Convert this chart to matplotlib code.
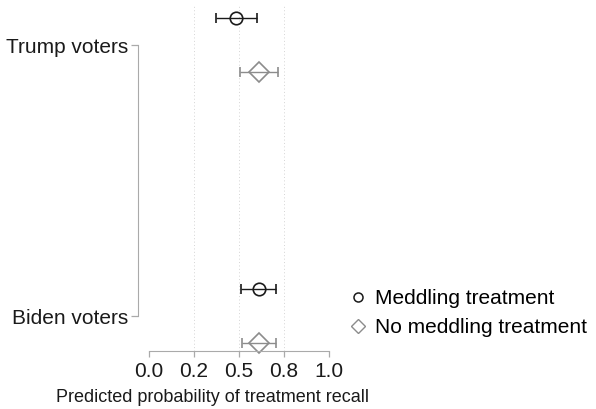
import matplotlib
from matplotlib import pyplot as plt
from matplotlib.lines import Line2D

plt.switch_backend('agg')
plt.rcParams['font.family'] = ['Liberation Sans', 'DejaVu Sans']

groups = ['Trump voters', 'Biden voters']
group_pos = [1.0, 0.0]

meddling_est = [0.483, 0.611]
meddling_lo = [0.372, 0.511]
meddling_hi = [0.600, 0.706]

nomeddling_est = [0.611, 0.611]
nomeddling_lo = [0.506, 0.517]
nomeddling_hi = [0.717, 0.706]

xticks = [0.0, 0.25, 0.5, 0.75, 1.0]
xticklabels = ['0.0', '0.2', '0.5', '0.8', '1.0']

black = '#1a1a1a'
grey = '#8c8c8c'

fig = plt.figure(figsize=(5.96, 4.09), dpi=100)
ax = fig.add_axes([149 / 596, 58 / 409, 180 / 596, 346 / 409])

# spine position first: moving it resets the ticks
for s in ['top', 'right']:
    ax.spines[s].set_visible(False)
ax.spines['left'].set_position(('outward', 8))
ax.spines['left'].set_bounds(0, 1)
ax.spines['left'].set_color('#aaaaaa')
ax.spines['bottom'].set_color('#aaaaaa')
ax.spines['bottom'].set_bounds(0, 1)

for x in xticks[1:]:
    ax.axvline(x, color='#d4d4d4', linestyle=(0, (1, 2.5)), linewidth=0.7, zorder=0)

off = 0.1
for i, y in enumerate(group_pos):
    ax.errorbar(meddling_est[i], y + off,
                xerr=[[meddling_est[i] - meddling_lo[i]], [meddling_hi[i] - meddling_est[i]]],
                fmt='o', mfc='none', mec=black, ecolor=black, color=black,
                markersize=9, mew=1.2, capsize=3.5, elinewidth=1.0, capthick=1.0,
                clip_on=False)
    ax.errorbar(nomeddling_est[i], y - off,
                xerr=[[nomeddling_est[i] - nomeddling_lo[i]], [nomeddling_hi[i] - nomeddling_est[i]]],
                fmt='D', mfc='none', mec=grey, ecolor=grey, color=grey,
                markersize=10, mew=1.2, capsize=3.5, elinewidth=1.0, capthick=1.0,
                clip_on=False)

ax.set_xlim(0, 1)
ax.set_ylim(-0.129, 1.148)

ax.set_xticks(xticks)
ax.set_xticklabels(xticklabels, fontsize=15)
ax.set_yticks(group_pos)
ax.set_yticklabels(groups, fontsize=15)
fig.text(213 / 596, 1 - 397 / 409, 'Predicted probability of treatment recall',
         fontsize=13, ha='center', va='center', color='#1a1a1a')

ax.tick_params(axis='both', colors='#aaaaaa', labelcolor='#1a1a1a', length=4, width=0.9)
ax.tick_params(axis='x', pad=4)
ax.tick_params(axis='y', length=5, pad=2)

handles = [
    Line2D([], [], marker='o', linestyle='none', mfc='none', mec=black, markersize=6.5, mew=1.1),
    Line2D([], [], marker='D', linestyle='none', mfc='none', mec=grey, markersize=7.5, mew=1.0),
]
fig.legend(handles, ['Meddling treatment', 'No meddling treatment'],
           loc='center left', bbox_to_anchor=(339 / 596, 1 - 313 / 409),
           frameon=False, fontsize=15, handlelength=0.8, handletextpad=0.45,
           labelspacing=0.5, borderpad=0)

fig.savefig('out.png', dpi=100)
